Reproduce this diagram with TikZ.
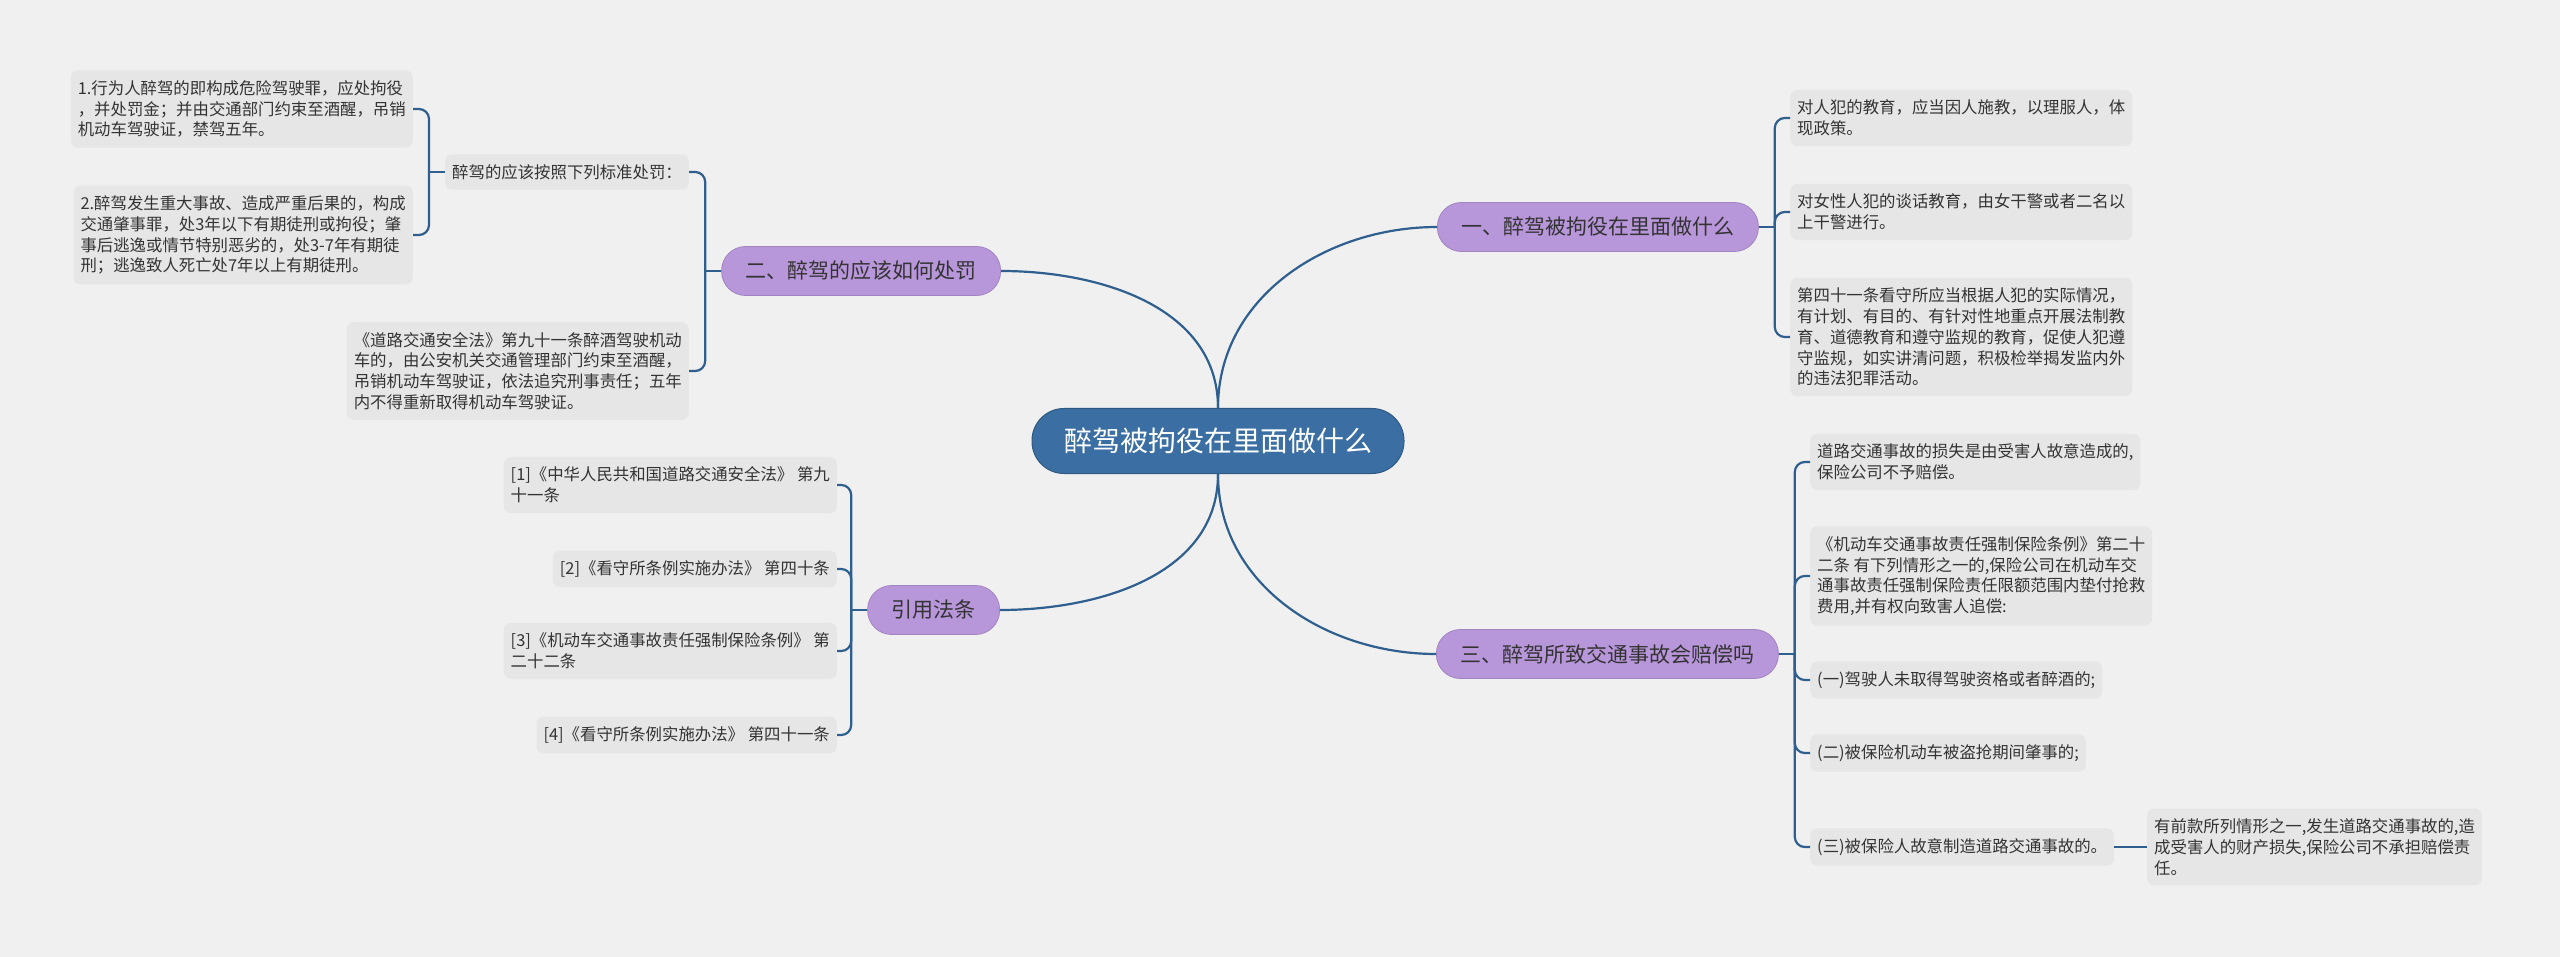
\documentclass[tikz,border=0pt]{standalone}
\usepackage{fontspec}
\setmainfont{Noto Sans CJK SC}
\usepackage{tikz}
\usetikzlibrary{positioning,calc}
\definecolor{bgGray}{HTML}{F0F0F0}
\definecolor{leafGray}{HTML}{E6E6E6}
\definecolor{rootBlue}{HTML}{3B6FA3}
\definecolor{branchLilac}{HTML}{B896DA}
\definecolor{lineBlue}{HTML}{2E5F8E}
\definecolor{textDark}{HTML}{333333}

\begin{document}
\begin{tikzpicture}[
    x=1pt,y=-1pt,
    every node/.style={text=textDark},
    rootbox/.style  ={rectangle,rounded corners=32pt,fill=rootBlue,draw=rootBlue!80!black,line width=1pt,
                      minimum height=65pt,inner xsep=32pt,text=white,font=\fontsize{28}{32}\selectfont},
    branchbox/.style={rectangle,rounded corners=24pt,fill=branchLilac,draw=branchLilac!88!black,line width=0.8pt,
                      minimum height=49pt,inner xsep=24pt,font=\fontsize{21}{25}\selectfont},
    leafbox/.style  ={rectangle,rounded corners=7pt,fill=leafGray,inner xsep=7pt,inner ysep=10pt,
                      align=left,font=\fontsize{16.4}{20.8}\selectfont},
    conn/.style={lineBlue,line width=2.2pt},
    bracket/.style={conn,rounded corners=10pt}
  ]
  \fill[bgGray] (0,0) rectangle (2560,957);
  \useasboundingbox (0,0) rectangle (2560,957);

  \node[rootbox] (root) at (1218,441) {醉驾被拘役在里面做什么};

  \node[branchbox,anchor=west] (jail)   at (1437,227) {一、醉驾被拘役在里面做什么};
  \node[branchbox,anchor=east] (punish) at (1001,271) {二、醉驾的应该如何处罚};
  \node[branchbox,anchor=east] (refs)   at (1000,610) {引用法条};
  \node[branchbox,anchor=west] (comp)   at (1436,654) {三、醉驾所致交通事故会赔偿吗};

  \node[leafbox,anchor=west] (jail1) at (1790,118) {对人犯的教育，应当因人施教，以理服人，体\\现政策。};
  \node[leafbox,anchor=west] (jail2) at (1790,212) {对女性人犯的谈话教育，由女干警或者二名以\\上干警进行。};
  \node[leafbox,anchor=west] (jail3) at (1790,337) {第四十一条看守所应当根据人犯的实际情况，\\有计划、有目的、有针对性地重点开展法制教\\育、道德教育和遵守监规的教育，促使人犯遵\\守监规，如实讲清问题，积极检举揭发监内外\\的违法犯罪活动。};

  \node[leafbox,anchor=east] (std)   at (689,172) {醉驾的应该按照下列标准处罚：};
  \node[leafbox,anchor=east] (std1)  at (413,109) {1.行为人醉驾的即构成危险驾驶罪，应处拘役\\，并处罚金；并由交通部门约束至酒醒，吊销\\机动车驾驶证，禁驾五年。};
  \node[leafbox,anchor=east] (std2)  at (413,235) {2.醉驾发生重大事故、造成严重后果的，构成\\交通肇事罪，处3年以下有期徒刑或拘役；肇\\事后逃逸或情节特别恶劣的，处3-7年有期徒\\刑；逃逸致人死亡处7年以上有期徒刑。};
  \node[leafbox,anchor=east] (law91) at (689,371) {《道路交通安全法》第九十一条醉酒驾驶机动\\车的，由公安机关交通管理部门约束至酒醒，\\吊销机动车驾驶证，依法追究刑事责任；五年\\内不得重新取得机动车驾驶证。};

  \node[leafbox,anchor=east] (ref1) at (837,485) {[1]《中华人民共和国道路交通安全法》 第九\\十一条};
  \node[leafbox,anchor=east] (ref2) at (837,569) {[2]《看守所条例实施办法》 第四十条};
  \node[leafbox,anchor=east] (ref3) at (837,651) {[3]《机动车交通事故责任强制保险条例》 第\\二十二条};
  \node[leafbox,anchor=east] (ref4) at (837,735) {[4]《看守所条例实施办法》 第四十一条};

  \node[leafbox,anchor=west] (comp1) at (1810,462) {道路交通事故的损失是由受害人故意造成的,\\保险公司不予赔偿。};
  \node[leafbox,anchor=west] (comp2) at (1810,576) {《机动车交通事故责任强制保险条例》第二十\\二条 有下列情形之一的,保险公司在机动车交\\通事故责任强制保险责任限额范围内垫付抢救\\费用,并有权向致害人追偿:};
  \node[leafbox,anchor=west] (comp3) at (1810,680) {(一)驾驶人未取得驾驶资格或者醉酒的;};
  \node[leafbox,anchor=west] (comp4) at (1810,753) {(二)被保险机动车被盗抢期间肇事的;};
  \node[leafbox,anchor=west] (comp5) at (1810,847) {(三)被保险人故意制造道路交通事故的。};
  \node[leafbox,anchor=west] (comp6) at (2147,847) {有前款所列情形之一,发生道路交通事故的,造\\成受害人的财产损失,保险公司不承担赔偿责\\任。};

  \draw[conn] (root.north) to[out=90,in=180] (jail.west);
  \draw[conn] (root.north) to[out=90,in=0] (punish.east);
  \draw[conn] (root.south) to[out=-90,in=0] (refs.east);
  \draw[conn] (root.south) to[out=-90,in=180] (comp.west);

  \coordinate (jailS)   at ($(jail.east)+(16,0)$);
  \coordinate (punishS) at ($(punish.west)+(-16,0)$);
  \coordinate (stdS)    at ($(std.west)+(-16,0)$);
  \coordinate (refsS)   at ($(refs.west)+(-16,0)$);
  \coordinate (compS)   at ($(comp.east)+(16,0)$);

  \draw[conn] (jail.east) -- (jailS);
  \foreach \n in {jail1,jail2,jail3} \draw[bracket] (jailS) |- (\n.west);
  \draw[conn] (punish.west) -- (punishS);
  \foreach \n in {std,law91} \draw[bracket] (punishS) |- (\n.east);
  \draw[conn] (std.west) -- (stdS);
  \foreach \n in {std1,std2} \draw[bracket] (stdS) |- (\n.east);
  \draw[conn] (refs.west) -- (refsS);
  \foreach \n in {ref1,ref2,ref3,ref4} \draw[bracket] (refsS) |- (\n.east);
  \draw[conn] (comp.east) -- (compS);
  \foreach \n in {comp1,comp2,comp3,comp4,comp5} \draw[bracket] (compS) |- (\n.west);
  \draw[conn] (comp5.east) -- (comp6.west);
\end{tikzpicture}
\end{document}
